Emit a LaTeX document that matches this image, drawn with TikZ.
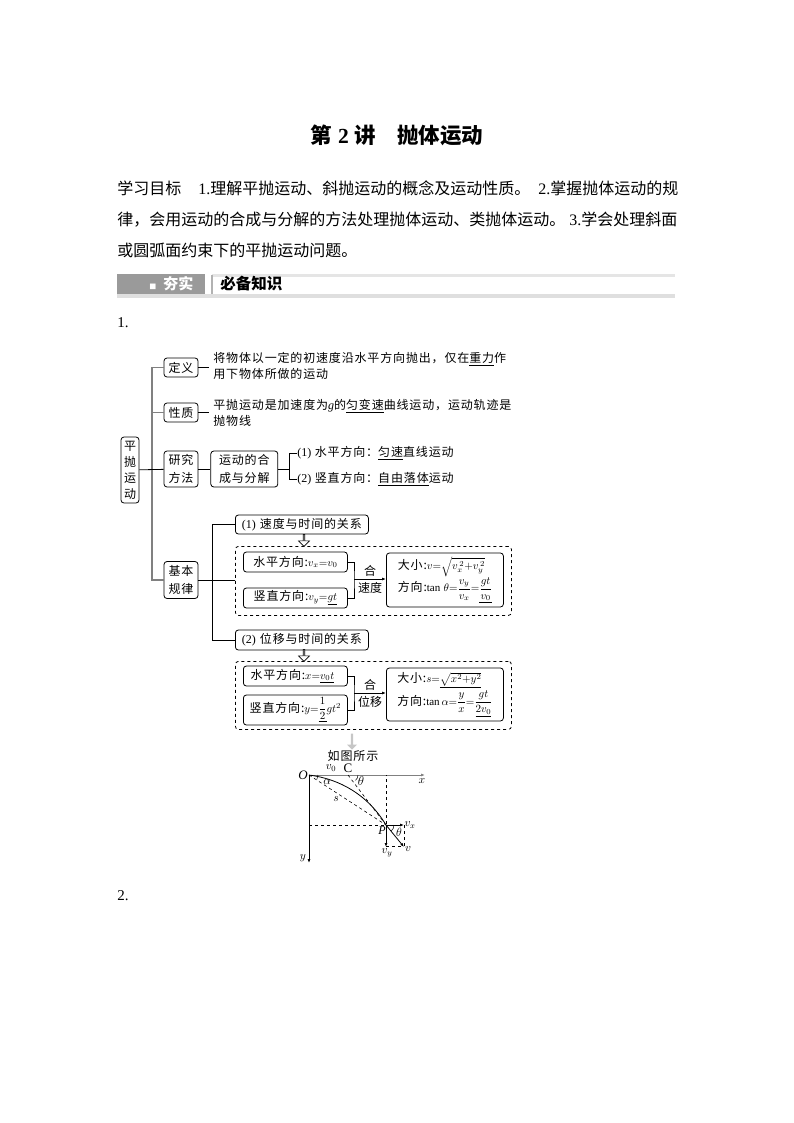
\documentclass[tikz,border=0pt]{standalone}
\usepackage{fix-cm}
\usepackage{amsmath,amssymb}
\usepackage{fontspec}
\usepackage{xcolor}
\usepackage{tikz}
\usetikzlibrary{arrows.meta, positioning, shapes.arrows}
\setmainfont{Liberation Serif}
\newfontfamily\cjk{Noto Sans CJK SC}
\newfontfamily\cjkw[LetterSpace=7]{Noto Sans CJK SC}
\definecolor{trunkgray}{HTML}{808080}
\definecolor{bargray}{HTML}{9A9A9A}
\newcommand{\en}[1]{{\rmfamily #1}}
\newcommand{\mk}[1]{\underline{#1}}
\newcommand{\mth}[1]{{\fontsize{11}{13}\selectfont$#1$}}

\begin{document}
\begin{tikzpicture}[
      x=1pt, y=-1pt,
      >={Latex[length=4pt,width=3pt]},
      line width=.8pt,
      body/.style={anchor=west, inner sep=0pt, font=\cjk\fontsize{16}{20}\selectfont},
      tag/.style={rounded corners=3pt, draw, inner sep=0pt, align=center,
                  minimum width=34pt, minimum height=19pt,
                  font=\cjkw\fontsize{12}{18}\selectfont},
      note/.style={anchor=west, inner sep=0pt, align=left,
                   font=\cjkw\fontsize{12}{16}\selectfont},
      trunk/.style={draw=trunkgray, line width=1.2pt},
      dash box/.style={draw, dashed, rounded corners=3pt, minimum width=276pt},
      hollow/.style={single arrow, draw, fill=white, inner sep=0pt, line width=.6pt,
                     shape border rotate=270, minimum height=12pt, minimum width=11pt,
                     single arrow head extend=2pt, single arrow tip angle=90},
      small/.style={inner sep=0pt, font=\fontsize{11.5}{13}\selectfont},
    ]
    \useasboundingbox (0,0) rectangle (794,1123);

    % heading
    \node[inner sep=0pt, font=\cjk\bfseries\fontsize{21.5}{24}\selectfont] (title) at (397,135)
      {第\hspace{6pt}\en{2}\hspace{6pt}讲\hspace{21pt}抛体运动};
    \node[body] (goal1) at (117,188) {学习目标\hspace{17pt}\en{1.}理解平抛运动、斜抛运动的概念及运动性质。\hspace{8pt}\en{2.}掌握抛体运动的规};
    \node[body] (goal2) at (117,220) {律，会用运动的合成与分解的方法处理抛体运动、类抛体运动。\hspace{4pt}\en{3.}学会处理斜面};
    \node[body] (goal3) at (117,250) {或圆弧面约束下的平抛运动问题。};

    % banner
    \fill[gray!25] (117,294) rectangle (675,298);
    \fill[gray!20] (212,274) rectangle (675,277);
    \node[anchor=north west, fill=bargray, minimum width=88pt, minimum height=20pt, inner sep=0pt] (barleft) at (117,274) {};
    \node[anchor=west, inner sep=0pt, text=white, font=\cjk\bfseries\fontsize{15}{16}\selectfont] (bartext) at (149,284)
      {\fontsize{7}{8}\selectfont\symbol{"25A0}\hspace{7pt}\fontsize{15}{16}\selectfont 夯实};
    \draw[gray!60, line width=1.4pt] (212,275) -- (212,294);
    \node[anchor=west, inner sep=0pt, font=\cjk\bfseries\fontsize{15.5}{16}\selectfont] (bartitle) at (220,284) {必备知识};

    \node[anchor=west, inner sep=0pt, font=\fontsize{15}{18}\selectfont] (one) at (117,323) {1.};
    \node[anchor=west, inner sep=0pt, font=\fontsize{15}{18}\selectfont] (two) at (117,896) {2.};

    % left column
    \node[tag, minimum width=18pt, minimum height=66pt, font=\cjk\fontsize{12}{16}\selectfont] (root) at (130,470) {平\\抛\\运\\动};
    \node[tag] (def) at (181,367.5) {定义};
    \node[tag] (prop) at (181,412.5) {性质};
    \node[tag, minimum height=36pt] (method) at (181,469) {研究\\方法};
    \node[tag, minimum height=37pt] (basic) at (181,580) {基本\\规律};
    \coordinate (stem) at (152,469);

    \node[note] (deftext) at (209,366) {\hspace{4pt}将物体以一定的初速度沿水平方向抛出，仅在\mk{重力}作\\\hspace{4pt}用下物体所做的运动};
    \node[note] (proptext) at (209,413) {\hspace{4pt}平抛运动是加速度为\en{\textit{g}}的\mk{匀变速}曲线运动，运动轨迹是\\\hspace{4pt}抛物线};

    \node[tag, minimum width=67pt, minimum height=36pt, right=12pt of method] (compose) {运动的合\\成与分解};
    \coordinate[right=11pt of compose] (fork);
    \node[note] (horiz) at (297,453.5) {\en{(1)}\hspace{3.5pt}水平方向：\mk{匀速}直线运动};
    \node[note] (vert) at (297,479.5) {\en{(2)}\hspace{3.5pt}竖直方向：\mk{自由落体}运动};

    \draw[trunk] (def.west) -| (stem);
    \draw[trunk] (basic.west) -| (stem);
    \draw[trunk] (prop.west) -- (prop -| stem);
    \draw (root) -- (method);
    \draw (def) -- (def -| deftext.west);
    \draw (prop) -- (prop -| proptext.west);
    \draw (method) -- (compose);
    \draw (compose) -- (fork);
    \draw (horiz.west) -| (fork);
    \draw (vert.west) -| (fork);

    % velocity group
    \node[tag, minimum width=133pt, anchor=west] (velhead) at (235,524.5) {\en{(1)}\hspace{4pt}速度与时间的关系};
    \node[dash box, minimum height=69pt, anchor=north west] (velframe) at (235,546) {};
    \node[hollow] (velarrow) at (304,540) {};
    \node[tag, minimum width=104pt, minimum height=20pt, anchor=west] (velx) at (243,562) {水平方向:\mth{v_x{=}v_0}};
    \node[tag, minimum width=104pt, minimum height=20pt, anchor=west] (vely) at (243,598) {竖直方向:\mth{v_y{=}\underline{gt}}};
    \node[tag, minimum width=117pt, minimum height=54pt, anchor=west, align=left] (velres) at (386,580)
      {大小:\mth{v{=}\sqrt{v_x^{\,2}{+}v_y^{\,2}}}\\[-1pt]方向:\mth{\mathrm{tan}\ \theta{=}\dfrac{v_y}{v_x}{=}\underline{\dfrac{gt}{v_0}}}};
    \coordinate (veljoin) at (354,579);
    \node[inner sep=0pt, font=\cjk\fontsize{12}{14}\selectfont] (velup) at (370,571) {合};
    \node[inner sep=0pt, font=\cjk\fontsize{12}{14}\selectfont] (veldown) at (370,588) {速度};

    % displacement group
    \node[tag, minimum width=133pt, minimum height=20pt, anchor=west] (poshead) at (235,640) {\en{(2)}\hspace{4pt}位移与时间的关系};
    \node[dash box, minimum height=68pt, anchor=north west] (posframe) at (235,661) {};
    \node[hollow] (posarrow) at (304,655) {};
    \node[tag, minimum width=104pt, minimum height=20pt, anchor=west] (posx) at (243,676) {水平方向:\mth{x{=}\underline{v_0t}}\hspace{6pt}};
    \node[tag, minimum width=104pt, minimum height=30pt, anchor=west] (posy) at (243,710) {竖直方向:\mth{y{=}\underline{\dfrac{1}{2}}gt^2}};
    \node[tag, minimum width=117pt, minimum height=53pt, anchor=west, align=left] (posres) at (386,694.5)
      {大小:\mth{s{=}\underline{\sqrt{x^2{+}y^2}}}\\[2pt]方向:\mth{\mathrm{tan}\,\alpha{=}\dfrac{y}{x}{=}\dfrac{gt}{\underline{2v_0}}}};
    \coordinate (posjoin) at (354,693);
    \node[inner sep=0pt, font=\cjk\fontsize{12}{14}\selectfont] (posup) at (370,685) {合};
    \node[inner sep=0pt, font=\cjk\fontsize{12}{14}\selectfont] (posdown) at (370,702) {位移};

    \draw (basic) -- (basic -| velhead.west);
    \draw (velhead.west) -| (212,640) -- (poshead.west);
    \draw (velx.east) -| (veljoin) |- (vely.east);
    \draw[->] (veljoin) -- (veljoin -| velres.west);
    \draw (posx.east) -| (posjoin) |- (posy.east);
    \draw[->] (posjoin) -- (posjoin -| posres.west);

    % trajectory figure
    \node[single arrow, draw=none, fill=gray!45, inner sep=0pt, shape border rotate=270,
          minimum height=16pt, minimum width=10pt, single arrow head extend=1.5pt] (figarrow) at (352,741) {};
    \node[inner sep=0pt, font=\cjkw\fontsize{12}{14}\selectfont] (figcap) at (353,756) {如图所示};

    \coordinate (org) at (309,775);
    \coordinate (pt) at (386,825);
    \coordinate (tan) at (348,775);
    \coordinate (xend) at (425,775);
    \coordinate (yend) at (309,863);
    \draw[->, draw=trunkgray] (org) -- (xend);
    \draw[->] (org) -- (yend);
    \draw[dashed, line width=.6pt] (org |- pt) -- (pt) -- (pt |- org);
    \draw[dashed, line width=.6pt] (org) -- (pt);
    \draw[dashed, line width=.6pt] (tan) -- (pt);
    \draw (org) .. controls (340,779) and (368,795) .. (pt);
    \draw[line width=.5pt] (318,775) arc (0:30:9);
    \draw[line width=.5pt] (358,775) arc (0:50:7);
    \draw[->] (pt) -- (404,825);
    \draw[->] (pt) -- (386,847);
    \draw[->] (pt) -- (404,847);
    \draw[dashed, line width=.6pt] (386,846) -- (404,846) -- (404,825);
    \draw[line width=.5pt] (394,825) arc (0:50:8);

    \node[small, font=\itshape\fontsize{13}{14}\selectfont] (lblO) at (303,775) {O};
    \node[small] (lblx) at (422,781) {$x$};
    \node[small] (lbly) at (303,858) {$y$};
    \node[small] (lblv0) at (331,768) {$v_0$};
    \node[small, font=\fontsize{13}{14}\selectfont] (lblC) at (348,768) {C};
    \node[small] (lblal) at (327,782) {$\alpha$};
    \node[small, font=\fontsize{13}{14}\selectfont] (lblth) at (361,781) {$\theta$};
    \node[small] (lbls) at (336,799) {$s$};
    \node[small, font=\itshape\fontsize{12}{14}\selectfont] (lblP) at (382,831) {P};
    \node[small, font=\fontsize{12}{14}\selectfont] (lblpth) at (399,832) {$\theta$};
    \node[small] (lblvx) at (410,825) {$v_x$};
    \node[small] (lblv) at (408,849) {$v$};
    \node[small] (lblvy) at (387,853) {$v_y$};
  \end{tikzpicture}
\end{document}
